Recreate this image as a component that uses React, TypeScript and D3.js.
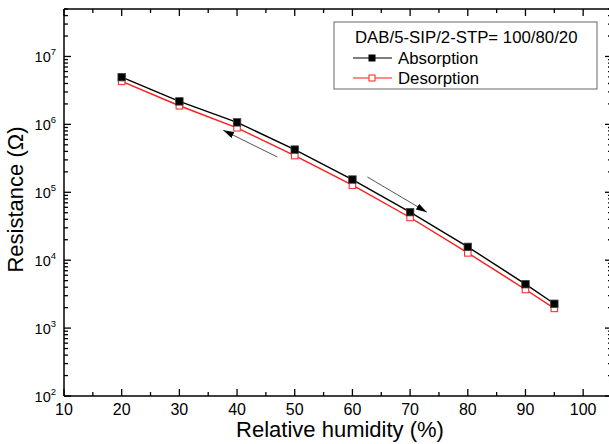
import React from "react";
import * as d3 from "d3";

const humidity = [20, 30, 40, 50, 60, 70, 80, 90, 95];
const absorption = [4.96e6, 2.18e6, 1.07e6, 4.25e5, 1.54e5, 5.1e4, 1.57e4, 4.43e3, 2.28e3];
const desorption = [4.3e6, 1.88e6, 8.9e5, 3.47e5, 1.27e5, 4.25e4, 1.28e4, 3.7e3, 1.95e3];
const xTicks = [10, 20, 30, 40, 50, 60, 70, 80, 90, 100];
const xMinor = [15, 25, 35, 45, 55, 65, 75, 85, 95, 105];
const yExps = [2, 3, 4, 5, 6, 7];
const legendTitle = "DAB/5-SIP/2-STP= 100/80/20";
const seriesNames = ["Absorption", "Desorption"];
// arrows in data space: [x1, y1, x2, y2]
const arrows = [
  [47.0, 3.3e5, 37.6, 8.2e5],
  [62.6, 1.68e5, 72.9, 5.1e4],
];

const W = 609, H = 444;
const L = 64, R = 612, T = 9, B = 396;
const FONT = "'Liberation Sans', Arial, sans-serif";

export default function App() {
  const x = d3.scaleLinear().domain([10, 105]).range([L, R]);
  const y = d3.scaleLog().domain([100, 5e7]).range([B, T]);
  const line = d3.line<[number, number]>().x(d => x(d[0])).y(d => y(d[1]));
  const absPts = humidity.map((h, i) => [h, absorption[i]] as [number, number]);
  const desPts = humidity.map((h, i) => [h, desorption[i]] as [number, number]);

  const yMinor: number[] = [];
  for (let e = 2; e <= 7; e++) for (let m = 2; m <= 9; m++) {
    const v = m * Math.pow(10, e);
    if (v <= 5e7) yMinor.push(v);
  }
  const MJ = 7, MN = 4;
  const ms = 7.5;

  return (
    <svg width={W} height={H} style={{ position: "absolute", left: 0, top: 0, background: "#fff" }} fontFamily={FONT}>
      <defs>
        <marker id="ah" viewBox="0 0 10 6" refX="10" refY="3" markerWidth="11" markerHeight="6.5" markerUnits="userSpaceOnUse" orient="auto">
          <path d="M0,0 L10,3 L0,6 Z" fill="#000" />
        </marker>
      </defs>
      <rect x={0} y={0} width={W} height={H} fill="#fff" />
      {/* frame */}
      <g stroke="#000" strokeWidth={1.5} fill="none">
        <line x1={L} y1={T} x2={L} y2={B} />
        <line x1={L} y1={B} x2={R} y2={B} />
        <line x1={L} y1={T} x2={R} y2={T} />
        <line x1={R} y1={T} x2={R} y2={B} />
      </g>
      {/* ticks */}
      <g stroke="#000" strokeWidth={1.3}>
        {xTicks.map(t => (
          <g key={"xt" + t}>
            <line x1={x(t)} x2={x(t)} y1={B} y2={B - MJ} />
            <line x1={x(t)} x2={x(t)} y1={T} y2={T + MJ} />
          </g>
        ))}
        {xMinor.map(t => (
          <g key={"xm" + t}>
            <line x1={x(t)} x2={x(t)} y1={B} y2={B - MN} />
            <line x1={x(t)} x2={x(t)} y1={T} y2={T + MN} />
          </g>
        ))}
        {yExps.map(e => (
          <g key={"yt" + e}>
            <line x1={L} x2={L + MJ} y1={y(Math.pow(10, e))} y2={y(Math.pow(10, e))} />
            <line x1={R} x2={R - MJ} y1={y(Math.pow(10, e))} y2={y(Math.pow(10, e))} />
          </g>
        ))}
        {yMinor.map(v => (
          <g key={"ym" + v}>
            <line x1={L} x2={L + MN} y1={y(v)} y2={y(v)} />
            <line x1={R} x2={R - MN} y1={y(v)} y2={y(v)} />
          </g>
        ))}
      </g>
      {/* x tick labels */}
      <g fontSize={16} fill="#000" textAnchor="middle">
        {xTicks.map(t => (
          <text key={"xl" + t} x={x(t)} y={B + 19}>{t}</text>
        ))}
      </g>
      {/* y tick labels */}
      <g fill="#000">
        {yExps.map(e => (
          <text key={"yl" + e} x={L - 8} y={y(Math.pow(10, e)) + 6} textAnchor="end" fontSize={14.5}>
            10<tspan fontSize={9.5} dy={-7}>{e}</tspan>
          </text>
        ))}
      </g>
      {/* axis titles */}
      <text x={(L + R) / 2 + 2} y={437} textAnchor="middle" fontSize={22} fill="#000">Relative humidity (%)</text>
      <text transform={`translate(23,${(T + B) / 2 - 3}) rotate(-90)`} textAnchor="middle" fontSize={22} fill="#000">Resistance (Ω)</text>
      {/* series */}
      <path d={line(desPts) || ""} fill="none" stroke="#ff1a1a" strokeWidth={1.4} />
      <path d={line(absPts) || ""} fill="none" stroke="#000" strokeWidth={1.4} />
      {desPts.map((p, i) => (
        <rect key={"d" + i} x={x(p[0]) - ms / 2 + 0.5} y={y(p[1]) - ms / 2 + 0.5} width={ms - 1} height={ms - 1} fill="#fff" stroke="#ff3030" strokeWidth={1.1} />
      ))}
      {absPts.map((p, i) => (
        <rect key={"a" + i} x={x(p[0]) - ms / 2} y={y(p[1]) - ms / 2} width={ms} height={ms} fill="#000" stroke="#444" strokeWidth={0.8} />
      ))}
      {/* arrows */}
      {arrows.map((a, i) => (
        <line key={"ar" + i} x1={x(a[0])} y1={y(a[1])} x2={x(a[2])} y2={y(a[3])} stroke="#555" strokeWidth={1} markerEnd="url(#ah)" />
      ))}
      {/* legend */}
      <rect x={334} y={22} width={263} height={67} fill="#fff" stroke="#666" strokeWidth={1} />
      <text x={355} y={43} fontSize={16.8} fill="#000">{legendTitle}</text>
      <line x1={353} x2={392} y1={58} y2={58} stroke="#000" strokeWidth={1.2} />
      <rect x={372 - 3.5} y={58 - 3.5} width={7} height={7} fill="#000" />
      <text x={398} y={64} fontSize={16.8} fill="#000">{seriesNames[0]}</text>
      <line x1={353} x2={392} y1={78} y2={78} stroke="#ff1a1a" strokeWidth={1.2} />
      <rect x={372 - 3} y={78 - 3} width={6} height={6} fill="#fff" stroke="#ff3030" strokeWidth={1.1} />
      <text x={398} y={84} fontSize={16.8} fill="#000">{seriesNames[1]}</text>
    </svg>
  );
}
